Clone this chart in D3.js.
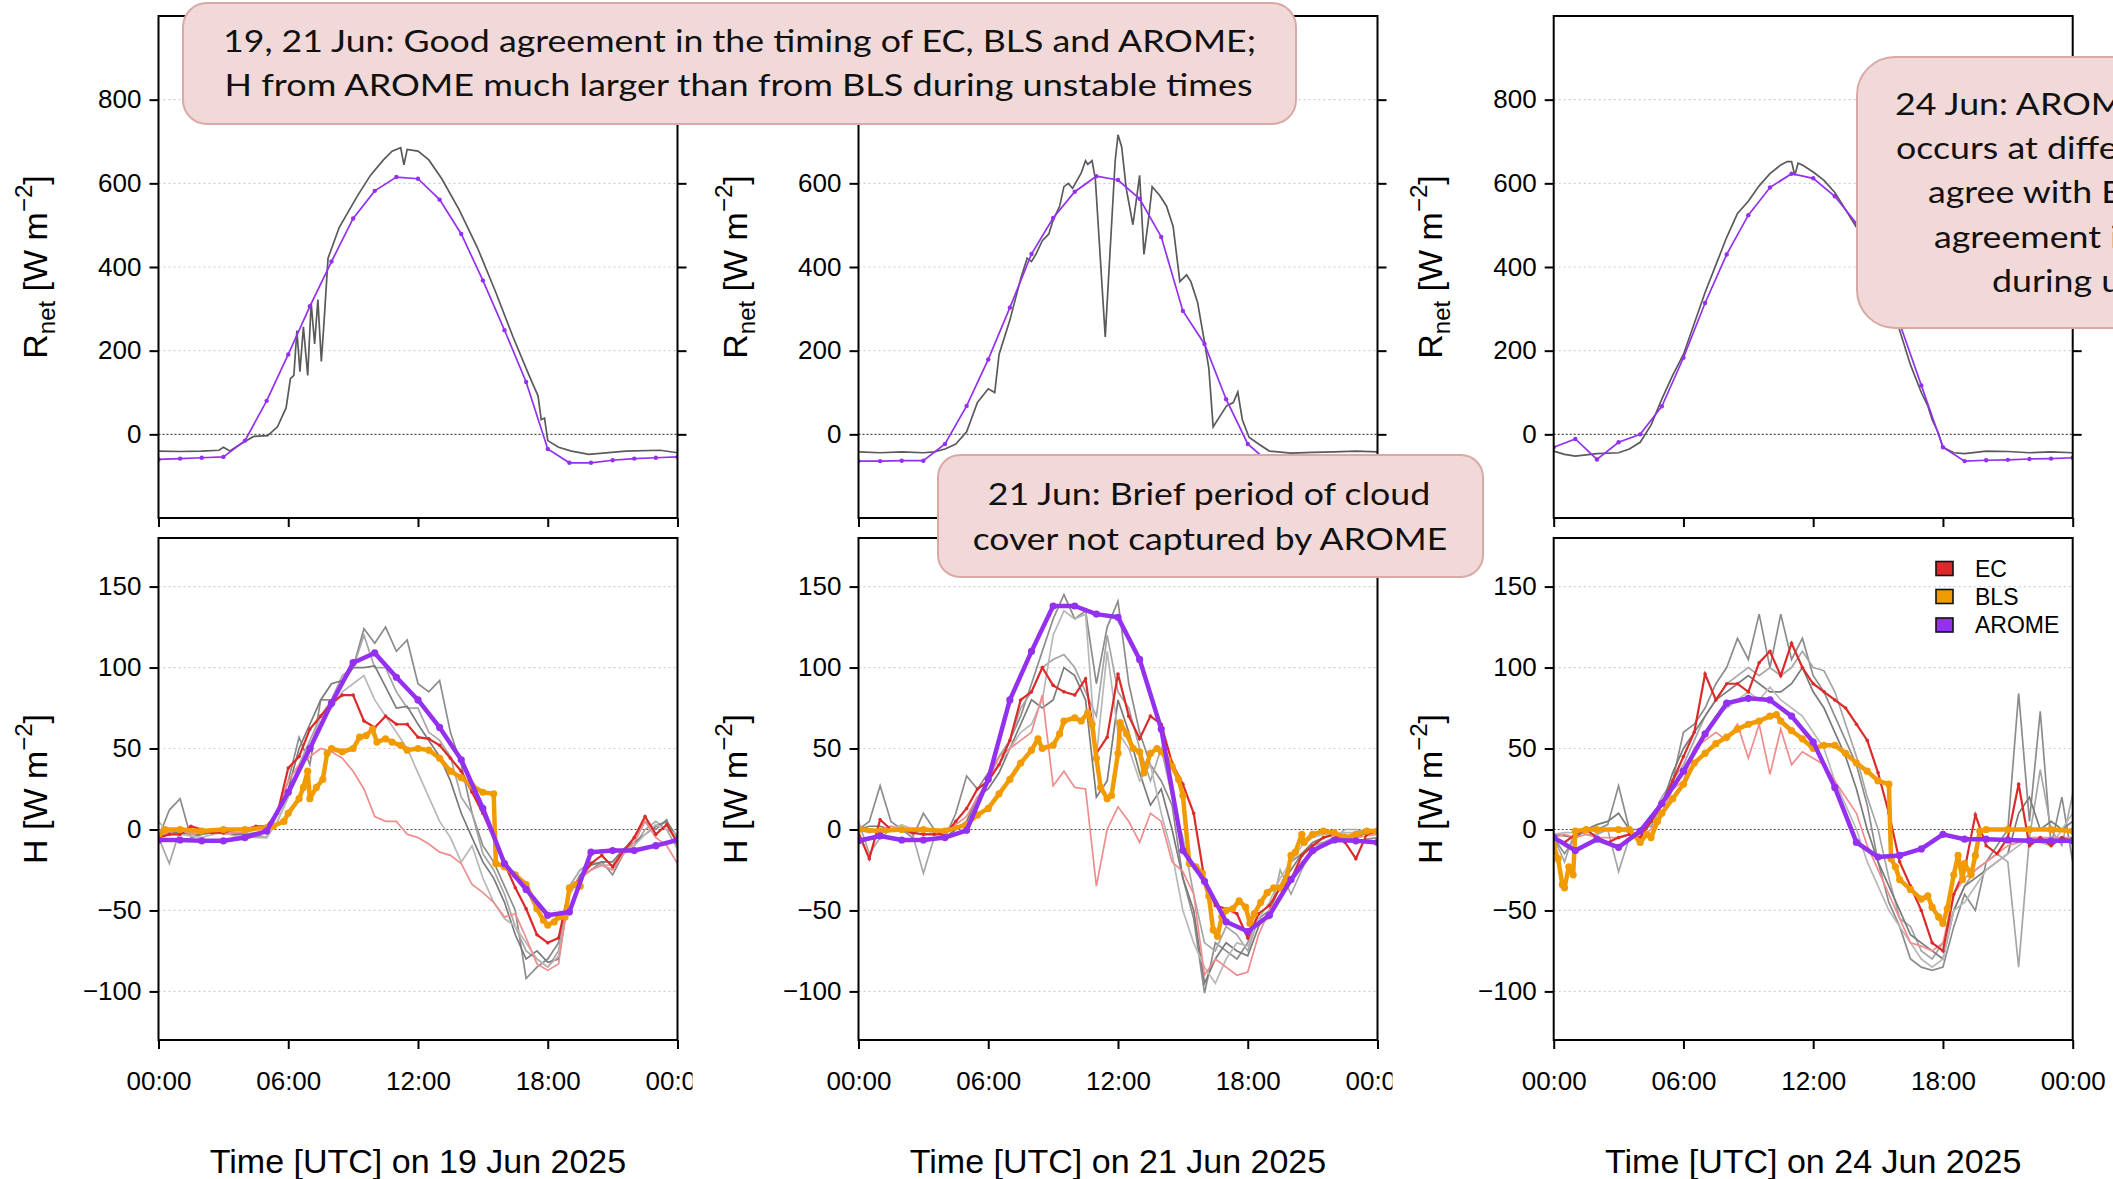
<!DOCTYPE html>
<html>
<head>
<meta charset="utf-8">
<script src="https://cdn.jsdelivr.net/npm/d3@7"></script>
<style>
html, body { margin: 0; padding: 0; background: #fff; }
svg { display: block; font-family: "Liberation Sans", Arial, sans-serif; }
</style>
</head>
<body>
<div id="root"></div>
<script>
// ---- time grids ----
const halfHours = d3.range(0, 24.001, 0.5); // 49 steps for EC series
const hours = d3.range(0, 25);              // AROME hourly output

const dayLabels = ['19 Jun 2025', '21 Jun 2025', '24 Jun 2025'];
const xTickLabels = ['00:00', '06:00', '12:00', '18:00', '00:00'];
const rnetTicks = [0, 200, 400, 600, 800];
const hTicks = [-100, -50, 0, 50, 100, 150];

// ---- net radiation, EC station [hour, W m-2] ----
const rnetEc19 = [[0,-40],[1,-41],[2,-40],[2.8,-38],[3.0,-31],[3.3,-40],[3.8,-23],[4.4,-5],[5.05,-3],[5.5,18],[5.9,63],[6.1,133],[6.26,141],[6.4,248],[6.54,150],[6.7,257],[6.9,141],[7.06,314],[7.22,216],[7.37,322],[7.53,174],[7.64,257],[7.84,421],[8.36,495],[9.2,570],[9.8,619],[10.4,656],[10.8,677],[11.2,685],[11.35,644],[11.5,681],[12,677],[12.5,656],[13.1,611],[13.9,537],[14.75,446],[15.6,339],[16.4,232],[17.2,133],[17.55,92],[17.7,35],[17.85,39],[18.0,-15],[18.5,-31],[19.1,-40],[19.9,-48],[21.6,-40],[23.2,-38],[24,-44]];
const rnetEc21 = [[0,-42],[1,-44],[2,-42],[3,-44],[3.5,-42],[4,-35],[4.5,-23],[5,6],[5.5,76],[6,109],[6.3,100],[6.5,191],[7,273],[7.5,372],[7.8,421],[8,413],[8.2,430],[8.5,463],[8.8,479],[9,512],[9.3,545],[9.5,592],[9.7,600],[9.9,588],[10.3,625],[10.5,654],[10.6,645],[10.8,654],[10.95,612],[11.41,233],[11.87,654],[12.0,716],[12.17,687],[12.38,588],[12.69,501],[12.9,580],[13.0,619],[13.2,430],[13.41,513],[13.58,592],[13.93,571],[14.24,546],[14.55,497],[14.86,365],[15.17,381],[15.37,365],[15.68,315],[15.99,224],[16.2,158],[16.4,18],[16.71,43],[17.02,68],[17.33,76],[17.54,101],[17.75,35],[18.06,-7],[18.5,-23],[19,-40],[20,-45],[21,-43],[22,-42],[23,-40],[24,-42]];
const rnetEc24 = [[0,-40],[0.5,-48],[1,-52],[2,-46],[3,-44],[3.5,-35],[4,-19],[4.5,22],[5,84],[5.5,141],[6,191],[6.5,265],[7,339],[7.5,405],[8,471],[8.5,528],[9,557],[9.5,594],[10,623],[10.5,644],[10.8,652],[11,652],[11.15,619],[11.3,648],[11.5,644],[12,627],[12.5,607],[13,578],[13.5,537],[14,495],[14.5,445],[15,390],[15.5,325],[16,248],[16.5,166],[17,100],[17.3,68],[17.5,35],[17.8,2],[18,-31],[18.5,-44],[19,-46],[20,-40],[21,-41],[22,-44],[23,-42],[24,-44]];

// ---- net radiation, AROME hourly ----
const rnetArome19 = [-60,-58,-56,-54,-15,80,191,306,413,516,582,615,611,561,479,368,249,125,-35,-68,-68,-62,-58,-56,-54];
const rnetArome21 = [-64,-64,-63,-63,-23,68,179,303,431,517,580,617,608,563,472,295,216,84,-23,-68,-66,-62,-60,-58,-57];
const rnetArome24 = [-31,-11,-60,-19,0,67,183,314,430,524,590,623,612,569,504,397,265,117,-31,-64,-62,-61,-59,-58,-56];

// ---- sensible heat flux, EC (half-hourly) ----
const hEc19 = [-5,-3,-3,2,0,-2,-2,0,0,2,2,10,38,45,62,70,78,83,83,67,63,70,65,65,57,56,52,44,36,23,10,-5,-21,-36,-49,-65,-70,-67,-36,-31,-21,-16,-23,-13,-5,8,-3,3,-8];
const hEcPink19 = [-3,-2,0,-3,-2,0,-3,-2,-2,0,2,10,30,40,45,50,48,44,36,25,8,5,5,-3,-5,-9,-14,-16,-21,-34,-39,-45,-54,-52,-67,-83,-87,-83,-36,-30,-25,-22,-25,-15,-8,5,-5,-10,-21];
const hGrayA19 = [-5,12,19,-5,-3,0,0,-2,-3,-4,-5,10,30,57,40,80,80,90,100,124,115,125,110,117,90,85,92,60,40,10,-10,-20,-35,-50,-92,-85,-80,-70,-40,-30,-25,-20,-28,-15,-5,5,0,6,-10];
const hGrayB19 = [-5,-21,0,-2,0,-3,0,-2,-5,-3,-5,5,20,40,55,70,80,95,100,120,100,100,85,75,75,60,55,45,20,10,-15,-25,-40,-60,-75,-80,-85,-75,-35,-25,-20,-22,-25,-15,-10,0,5,0,-12];
const hGrayC19 = [-3,-2,-2,-3,-3,-2,-2,-3,-3,-2,-2,10,25,50,65,80,90,92,100,100,101,88,75,76,65,55,45,30,10,-5,-20,-30,-45,-65,-80,-75,-82,-80,-40,-28,-22,-20,-20,-12,-8,-3,2,5,-5];
const hGrayD19 = [5,-3,-3,-4,-5,-3,-2,-4,-4,-5,-5,5,20,35,50,70,75,85,90,95,80,70,60,50,35,20,5,-5,-20,-10,-30,-45,-55,-60,-70,-80,-85,-78,-40,-30,-25,-22,-22,-15,-10,-3,3,0,-3];

const hEc21 = [-2,-18,6,0,0,-2,-3,-3,-3,5,13,25,30,40,55,80,85,100,89,85,83,93,47,57,96,70,56,70,65,41,28,10,-31,-47,-49,-52,-67,-52,-47,-36,-31,-16,-10,-5,-3,-8,-18,-3,-1];
const hEcPink21 = [0,-2,0,2,0,-2,-3,-2,0,3,8,20,30,45,50,55,60,83,27,36,26,25,-35,0,14,5,-8,10,5,-20,-26,-40,-90,-80,-85,-90,-88,-65,-50,-40,-30,-20,-15,-10,-5,-5,-5,-4,-3];
const hGrayA21 = [0,5,27,5,0,-5,10,0,-5,10,33,25,35,45,55,70,90,110,130,145,130,135,90,125,141,90,60,40,30,15,-30,-55,-101,-70,-75,-80,-70,-55,-50,-35,-20,-15,-10,-8,-5,-3,-8,-6,-5];
const hGrayB21 = [5,-15,-5,0,0,-3,-27,-5,-5,0,5,15,30,45,55,75,85,100,105,108,100,85,70,120,85,75,50,30,50,20,-5,-40,-70,-75,-60,-65,-75,-55,-55,-25,-40,-25,-10,-8,-5,0,0,-2,0];
const hGrayC21 = [0,2,2,0,0,-2,0,0,-5,0,5,20,25,35,50,65,80,75,80,100,95,80,20,30,80,60,35,15,25,0,-30,-50,-95,-80,-70,-75,-78,-60,-50,-35,-25,-15,-8,-5,-3,-4,-5,-2,0];
const hGrayD21 = [0,0,0,0,3,0,0,0,0,2,3,15,30,40,50,60,65,80,120,135,130,133,45,110,60,50,30,40,10,-15,-50,-70,-85,-95,-80,-70,-72,-55,-45,-30,-20,-10,-5,-3,-3,-2,-2,0,0];

const hEc24 = [-5,-8,-3,0,-5,-8,-5,-3,-5,5,15,30,45,60,96,80,90,90,85,103,110,95,115,100,90,85,80,75,65,55,35,10,-20,-35,-50,-70,-75,-40,-25,9,-10,-15,-5,28,-10,-5,-10,-5,-8];
const hEcPink24 = [-5,-3,-5,-3,-5,-5,-5,-3,-5,0,10,25,30,50,55,60,55,65,44,65,34,62,40,48,44,40,30,20,10,-10,-25,-40,-55,-70,-72,-75,-70,-40,-30,-25,-20,-15,-10,-8,-5,-5,-5,-5,-5];
const hGrayA24 = [-5,-15,-5,0,0,3,27,0,-5,5,15,30,60,65,75,90,100,118,105,133,100,133,105,118,95,85,70,55,40,15,-20,-45,-60,-80,-85,-87,-85,-60,-40,-50,-20,-10,0,84,5,73,-10,20,-20];
const hGrayB24 = [-5,-20,0,-3,-3,0,-26,-5,-3,5,20,30,40,55,70,80,90,95,100,95,100,95,100,110,100,98,85,65,45,20,0,-30,-55,-60,-75,-80,-70,-50,-35,-25,-20,-15,-20,-85,-5,37,0,-10,22];
const hGrayC24 = [-3,-4,-5,0,3,5,10,0,0,2,15,35,50,60,70,80,85,90,95,90,85,85,90,100,85,75,60,45,25,0,-20,-35,-50,-65,-70,-75,-80,-50,-35,-30,-25,-20,-15,10,20,0,5,0,5];
const hGrayD24 = [-3,-2,-2,-1,0,0,0,-2,-3,3,15,25,35,50,60,70,75,80,85,80,88,80,75,70,60,50,30,15,0,-20,-35,-50,-60,-70,-80,-85,-80,-50,-45,-35,-25,-20,-15,-10,-5,-8,-10,0,10];

// ---- sensible heat flux, BLS [hour, W m-2] ----
const hBls19 = [[0,-4],[0.3,0],[1,0],[2,-1],[3,0],[4,0],[5,1],[5.3,2],[5.8,5],[6,10],[6.5,19],[6.7,26],[6.9,36],[7.0,19],[7.3,26],[7.6,31],[7.8,47],[8,50],[8.5,48],[9,50],[9.3,57],[9.6,58],[9.9,62],[10.1,54],[10.5,56],[10.8,54],[11.2,52],[11.5,49],[12,50],[12.5,49],[13,44],[13.5,36],[14,32],[14.5,27],[15,23],[15.5,22],[15.6,-21],[16,-23],[16.5,-28],[17,-34],[17.5,-49],[17.8,-56],[18,-59],[18.3,-57],[18.5,-54],[18.8,-54],[19,-36],[19.3,-34],[19.5,-35]];
const hBls21 = [[0,0],[1,-1],[2,0],[3,0],[4,-1],[5,3],[5.5,9],[6,13],[6.5,22],[7,31],[7.5,41],[8,49],[8.3,56],[8.5,50],[9,52],[9.3,59],[9.5,67],[10,69],[10.3,67],[10.6,72],[10.8,65],[11,44],[11.2,26],[11.5,19],[11.7,21],[12,47],[12.1,66],[12.4,59],[12.7,50],[13,48],[13.2,35],[13.5,47],[13.8,50],[14,48],[14.3,43],[14.5,39],[14.8,31],[15,21],[15.3,-21],[15.6,-23],[15.9,-27],[16.2,-41],[16.4,-62],[16.6,-66],[16.8,-54],[17,-50],[17.3,-49],[17.6,-44],[17.9,-48],[18.1,-58],[18.3,-52],[18.6,-45],[18.9,-39],[19.2,-36],[19.5,-36],[19.8,-30],[20,-16],[20.2,-14],[20.5,-3],[20.6,-8],[21,-3],[21.5,-1],[22,-2],[22.5,-5],[23,-3],[23.5,-1],[24,-1]];
const hBls24 = [[0,-10],[0.2,-18],[0.4,-34],[0.5,-36],[0.7,-23],[0.9,-28],[1.0,-1],[1.5,0],[2,0],[3,0],[3.5,0],[4,-8],[4.3,-3],[4.5,-5],[4.8,5],[5,10],[5.5,19],[6,28],[6.5,41],[7,47],[7.5,53],[8,57],[8.5,62],[9,65],[9.5,67],[10,70],[10.3,71],[10.5,67],[11,61],[11.5,56],[12,50],[12.5,52],[13,52],[13.5,47],[14,41],[14.5,36],[15,30],[15.5,28],[15.6,-18],[15.8,-23],[16,-31],[16.5,-37],[17,-43],[17.3,-41],[17.5,-48],[17.8,-54],[18,-58],[18.2,-49],[18.5,-28],[18.7,-16],[18.9,-31],[19,-21],[19.3,-28],[19.5,-16],[19.7,-1],[20,0],[21,0],[22,0],[23,0],[24,-1]];

// ---- sensible heat flux, AROME hourly ----
const hArome19 = [-6.5,-6.5,-7,-7,-5,-1,23,50,78,103,109,94,80,63,43,13,-21,-37,-53,-51,-14,-13,-13,-10,-6.5];
const hArome21 = [-7,-4,-6.5,-6.5,-5,-0.5,31,80,110,138,138,133,131,105,62,-13,-32,-57,-63,-53,-31,-13,-6.5,-7,-8];
const hArome24 = [-5,-13,-6,-11,-1,16,36,59,78,81,80,70,54,26,-8,-17,-16,-12,-3,-6,-6,-6.5,-7,-7,-7];

const legendNames = ['EC', 'BLS', 'AROME'];

const notes = [
  { lines: ['19, 21 Jun: Good agreement in the timing of EC, BLS and AROME;', 'H from AROME much larger than from BLS during unstable times'] },
  { lines: ['21 Jun: Brief period of cloud', 'cover not captured by AROME'] },
  { lines: ['24 Jun: AROME transition to stable conditions', 'occurs at different time and does not', 'agree with EC and BLS; good', 'agreement in magnitude of H', 'during unstable times'] }
];

const days = [
  { label: dayLabels[0], rnetEc: rnetEc19, rnetArome: rnetArome19, grays: [hGrayA19, hGrayB19, hGrayC19, hGrayD19], pink: hEcPink19, ec: hEc19, bls: hBls19, arome: hArome19 },
  { label: dayLabels[1], rnetEc: rnetEc21, rnetArome: rnetArome21, grays: [hGrayA21, hGrayB21, hGrayC21, hGrayD21], pink: hEcPink21, ec: hEc21, bls: hBls21, arome: hArome21 },
  { label: dayLabels[2], rnetEc: rnetEc24, rnetArome: rnetArome24, grays: [hGrayA24, hGrayB24, hGrayC24, hGrayD24], pink: hEcPink24, ec: hEc24, bls: hBls24, arome: hArome24 }
];

// colours
const colEc = '#dc2a2a';
const colPink = '#f08c8c';
const colBls = '#f29b00';
const colArome = '#9430f0';
const grayCols = ['#8c8c8c', '#a6a6a6', '#7a7a7a', '#b8b8b8'];

// layout
const W = 2113, H = 1179;
const colX = [158.5, 858.5, 1553.7];
const pw = 519;
const topY = [16, 518];
const botY = [538, 1040];

const svg = d3.select('#root').append('svg').attr('width', W).attr('height', H);

const styleAxis = (g, size) => {
  g.select('.domain').remove();
  g.selectAll('line').attr('stroke', '#000').attr('stroke-width', 2);
  g.selectAll('text').attr('font-size', size).attr('fill', '#000').attr('font-family', '"Liberation Sans", Arial, sans-serif');
};

const gridLines = (g, y, ticks, x0) => {
  ticks.forEach(t => {
    g.append('line')
      .attr('x1', x0).attr('x2', x0 + pw)
      .attr('y1', y(t)).attr('y2', y(t))
      .attr('stroke', t === 0 ? '#4a4a4a' : '#cfcfcf')
      .attr('stroke-width', 1.2)
      .attr('stroke-dasharray', t === 0 ? '2,2' : '2,3');
  });
};

const yTitle = (g, x, cy, sub) => {
  const t = g.append('text')
    .attr('transform', `translate(${x},${cy}) rotate(-90)`)
    .attr('text-anchor', 'middle')
    .attr('font-size', 34)
    .attr('fill', '#000');
  if (sub) {
    t.append('tspan').text('R');
    t.append('tspan').attr('font-size', 24).attr('dy', 8).text('net');
    t.append('tspan').attr('dy', -8).text(' [W m');
  } else {
    t.append('tspan').text('H [W m');
  }
  t.append('tspan').attr('font-size', 24).attr('dy', -15).text('\u22122');
  t.append('tspan').attr('dy', 15).text(']');
};

days.forEach((day, i) => {
  const x0 = colX[i];
  const g = svg.append('g');
  const x = d3.scaleLinear().domain([0, 24]).range([x0, x0 + pw]);
  const yR = d3.scaleLinear().domain([-200, 1000]).range([topY[1], topY[0]]);
  const yH = d3.scaleLinear().domain([-130, 180]).range([botY[1], botY[0]]);

  // clip paths (axis clip is in the axis group's local coordinates)
  const clipTop = `clipTop${i}`, clipBot = `clipBot${i}`;
  const defs = svg.append('defs');
  defs.append('clipPath').attr('id', clipTop).append('rect')
    .attr('x', x0).attr('y', topY[0]).attr('width', pw).attr('height', topY[1] - topY[0]);
  defs.append('clipPath').attr('id', clipBot).append('rect')
    .attr('x', x0).attr('y', botY[0]).attr('width', pw).attr('height', botY[1] - botY[0]);
  defs.append('clipPath').attr('id', `clipAx${i}`).append('rect')
    .attr('x', x0 - 80).attr('y', -5).attr('width', pw + 80 + (i < 2 ? 15 : 60)).attr('height', 90);

  // ---------- top panel: net radiation ----------
  gridLines(g, yR, [200, 400, 600, 800, 0], x0);
  const top = g.append('g').attr('clip-path', `url(#${clipTop})`);
  const lineP = d3.line().x(d => x(d[0])).y(d => yR(d[1]));
  top.append('path').datum(day.rnetEc).attr('d', lineP)
    .attr('fill', 'none').attr('stroke', '#5a5a5a').attr('stroke-width', 1.7);
  const arR = hours.map((h, k) => [h, day.rnetArome[k]]);
  top.append('path').datum(arR).attr('d', lineP)
    .attr('fill', 'none').attr('stroke', colArome).attr('stroke-width', 1.7);
  top.selectAll('circle').data(arR).enter().append('circle')
    .attr('cx', d => x(d[0])).attr('cy', d => yR(d[1])).attr('r', 2.2).attr('fill', colArome);

  g.append('rect').attr('x', x0).attr('y', topY[0]).attr('width', pw).attr('height', topY[1] - topY[0])
    .attr('fill', 'none').attr('stroke', '#000').attr('stroke-width', 2);
  g.append('g').attr('transform', `translate(${x0},0)`)
    .call(d3.axisLeft(yR).tickValues(rnetTicks).tickSize(9).tickPadding(8))
    .call(a => styleAxis(a, 26));
  g.append('g').attr('transform', `translate(${x0 + pw},0)`)
    .call(d3.axisRight(yR).tickValues(rnetTicks).tickSize(9).tickFormat(''))
    .call(a => styleAxis(a, 26));
  g.append('g').attr('transform', `translate(0,${topY[1]})`)
    .call(d3.axisBottom(x).tickValues([0, 6, 12, 18, 24]).tickSize(9).tickFormat(''))
    .call(a => styleAxis(a, 26));
  yTitle(g, x0 - 112, (topY[0] + topY[1]) / 2, true);

  // ---------- bottom panel: sensible heat flux ----------
  gridLines(g, yH, [-100, -50, 50, 100, 150, 0], x0);
  const bot = g.append('g').attr('clip-path', `url(#${clipBot})`);
  const lineH = d3.line().x(d => x(d[0])).y(d => yH(d[1]));
  const halfPairs = arr => halfHours.map((h, k) => [h, arr[k]]);

  day.grays.forEach((arr, k) => {
    bot.append('path').datum(halfPairs(arr)).attr('d', lineH)
      .attr('fill', 'none').attr('stroke', grayCols[k]).attr('stroke-width', 1.7);
  });
  bot.append('path').datum(halfPairs(day.pink)).attr('d', lineH)
    .attr('fill', 'none').attr('stroke', colPink).attr('stroke-width', 1.7);
  const ecPts = halfPairs(day.ec);
  bot.append('path').datum(ecPts).attr('d', lineH)
    .attr('fill', 'none').attr('stroke', colEc).attr('stroke-width', 2.2);
  bot.append('g').selectAll('circle').data(ecPts).enter().append('circle')
    .attr('cx', d => x(d[0])).attr('cy', d => yH(d[1])).attr('r', 1.8).attr('fill', colEc);

  bot.append('path').datum(day.bls).attr('d', lineH)
    .attr('fill', 'none').attr('stroke', colBls).attr('stroke-width', 4.5).attr('stroke-linejoin', 'round');
  bot.append('g').selectAll('circle').data(day.bls).enter().append('circle')
    .attr('cx', d => x(d[0])).attr('cy', d => yH(d[1])).attr('r', 3.6).attr('fill', colBls);

  const arH = hours.map((h, k) => [h, day.arome[k]]);
  bot.append('path').datum(arH).attr('d', lineH)
    .attr('fill', 'none').attr('stroke', colArome).attr('stroke-width', 4.5).attr('stroke-linejoin', 'round');
  bot.append('g').selectAll('circle').data(arH).enter().append('circle')
    .attr('cx', d => x(d[0])).attr('cy', d => yH(d[1])).attr('r', 3.6).attr('fill', colArome);

  g.append('rect').attr('x', x0).attr('y', botY[0]).attr('width', pw).attr('height', botY[1] - botY[0])
    .attr('fill', 'none').attr('stroke', '#000').attr('stroke-width', 2);
  g.append('g').attr('transform', `translate(${x0},0)`)
    .call(d3.axisLeft(yH).tickValues(hTicks).tickSize(9).tickPadding(8))
    .call(a => styleAxis(a, 26));
  g.append('g').attr('transform', `translate(0,${botY[1]})`).attr('clip-path', `url(#clipAx${i})`)
    .call(d3.axisBottom(x).tickValues([0, 6, 12, 18, 24]).tickSize(9).tickPadding(23)
      .tickFormat((d, k) => xTickLabels[k]))
    .call(a => styleAxis(a, 26));
  yTitle(g, x0 - 112, (botY[0] + botY[1]) / 2, false);

  g.append('text')
    .attr('x', x0 + pw / 2).attr('y', 1161)
    .attr('text-anchor', 'middle').attr('dominant-baseline', 'central')
    .attr('font-size', 34).attr('fill', '#000')
    .text(`Time [UTC] on ${day.label}`);

  // legend only in the last column
  if (i === 2) {
    const legCols = [colEc, colBls, colArome];
    const ly = [568.5, 596.5, 625];
    legendNames.forEach((name, k) => {
      g.append('rect').attr('x', 1936).attr('y', ly[k] - 7).attr('width', 17).attr('height', 14)
        .attr('fill', legCols[k]).attr('stroke', '#111').attr('stroke-width', 1.6);
      g.append('text').attr('x', 1975).attr('y', ly[k]).attr('dominant-baseline', 'central')
        .attr('font-size', 23).attr('fill', '#000').text(name);
    });
  }
});

// ---------- annotation boxes ----------
const noteFont = 'Lato, "Noto Sans", sans-serif';
const boxFill = '#f0d9d8';
const boxStroke = '#d9aaa5';

// measure to get horizontal scale for the clipped right-hand box
const probe = svg.append('text').attr('font-family', noteFont).attr('font-size', 31).text(notes[1].lines[0]);
const kScale = 442.5 / probe.node().getComputedTextLength();
probe.remove();

const ann = svg.append('g').attr('font-family', noteFont).attr('font-size', 31).attr('fill', '#111');

// box 1
ann.append('rect').attr('x', 183).attr('y', 3).attr('width', 1113).attr('height', 121).attr('rx', 24)
  .attr('fill', boxFill).attr('stroke', boxStroke).attr('stroke-width', 2);
[[739.5, 52, 1033], [738.5, 96, 1028]].forEach(([cx, by, w], k) => {
  ann.append('text').attr('x', cx).attr('y', by).attr('text-anchor', 'middle')
    .attr('textLength', w).attr('lengthAdjust', 'spacingAndGlyphs').text(notes[0].lines[k]);
});

// box 2
ann.append('rect').attr('x', 938).attr('y', 455).attr('width', 545).attr('height', 122).attr('rx', 22)
  .attr('fill', boxFill).attr('stroke', boxStroke).attr('stroke-width', 2);
[[1209, 505, 442.5], [1210, 550, 474.5]].forEach(([cx, by, w], k) => {
  ann.append('text').attr('x', cx).attr('y', by).attr('text-anchor', 'middle')
    .attr('textLength', w).attr('lengthAdjust', 'spacingAndGlyphs').text(notes[1].lines[k]);
});

// box 3 (runs off the right edge)
ann.append('rect').attr('x', 1857).attr('y', 57).attr('width', 600).attr('height', 271).attr('rx', 38)
  .attr('fill', boxFill).attr('stroke', boxStroke).attr('stroke-width', 2);
[[1895, 115], [1896, 159], [1928, 203], [1934, 248], [1992, 292]].forEach(([sx, by], k) => {
  ann.append('text').attr('transform', `translate(${sx},${by}) scale(${kScale},1)`)
    .text(notes[2].lines[k]);
});
</script>
</body>
</html>
